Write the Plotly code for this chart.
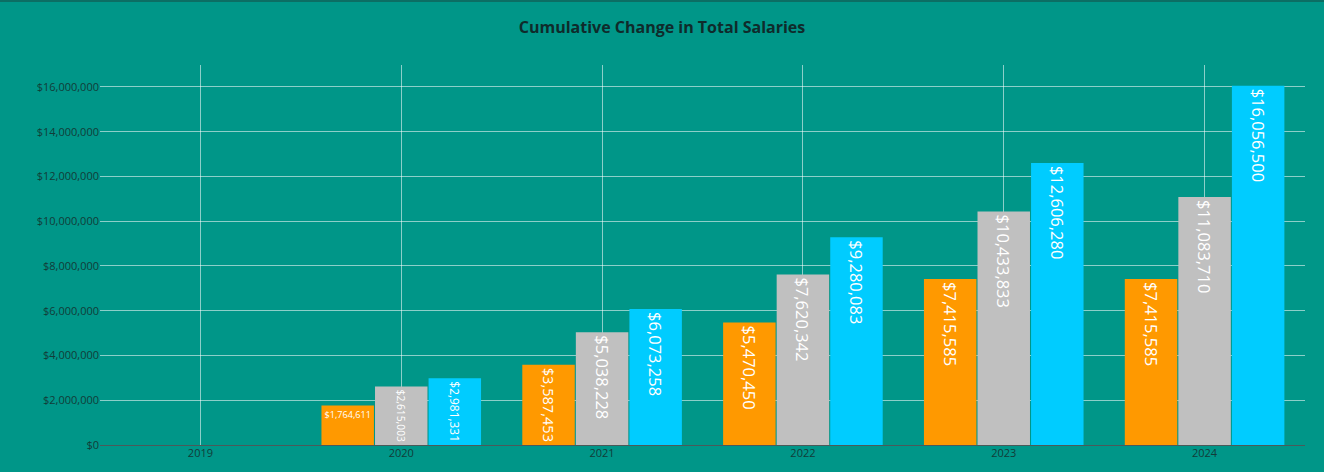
import plotly.graph_objects as go

years = ["2019", "2020", "2021", "2022", "2023", "2024"]
series_a = [0, 1764611, 3587453, 5470450, 7415585, 7415585]
series_b = [0, 2615003, 5038228, 7620342, 10433833, 11083710]
series_c = [0, 2981331, 6073258, 9280083, 12606280, 16056500]
names = ["Series A", "Series B", "Series C"]
colors = ["#FF9900", "#C0C0C0", "#00CCFF"]

fig = go.Figure()
for name, vals, col in zip(names, [series_a, series_b, series_c], colors):
    fig.add_trace(go.Bar(
        x=years, y=vals, name=name,
        marker=dict(color=col, line=dict(width=0)),
        text=[("$" + format(v, ",")) if v else "" for v in vals],
        textposition="inside",
        insidetextanchor="end",
        insidetextfont=dict(color="white", size=16.5, family="Open Sans"),
        hovertemplate="%{x}: $%{y:,}<extra>" + name + "</extra>",
    ))

fig.update_layout(
    width=1324, height=472,
    barmode="group", bargap=0.2, bargroupgap=0.02,
    paper_bgcolor="#009688", plot_bgcolor="#009688",
    margin=dict(l=100, r=19, t=65, b=24),
    showlegend=False,
    font=dict(family="Open Sans", color="#123c38", size=11),
    title=dict(text="<b>Cumulative Change in Total Salaries</b>", x=0.5, xanchor="center",
               y=0.943, yanchor="middle", font=dict(size=16, color="#0f2b2b", family="Open Sans")),
    xaxis=dict(showgrid=True, gridcolor="rgba(255,255,255,0.55)", gridwidth=1,
               tickfont=dict(size=11, color="#123c38"), ticks="", ticklen=0),
    yaxis=dict(showgrid=True, gridcolor="rgba(255,255,255,0.55)", gridwidth=1,
               tickprefix="$", tickformat=",d", dtick=2000000,
               zeroline=True, zerolinecolor="#4a5a5a", zerolinewidth=1,
               tickfont=dict(size=11, color="#123c38"), range=[0, 16980000]),
    shapes=[dict(type="line", xref="paper", yref="paper", x0=-100/1205, x1=1 + 19/1205,
                 y0=1 + 64.5/383, y1=1 + 64.5/383, line=dict(color="#0c6e64", width=2))],
)

fig.write_html("out.html", config={"displayModeBar": False},
               post_script="document.body.style.margin='0';document.body.style.padding='0';document.body.style.background='#009688';")
